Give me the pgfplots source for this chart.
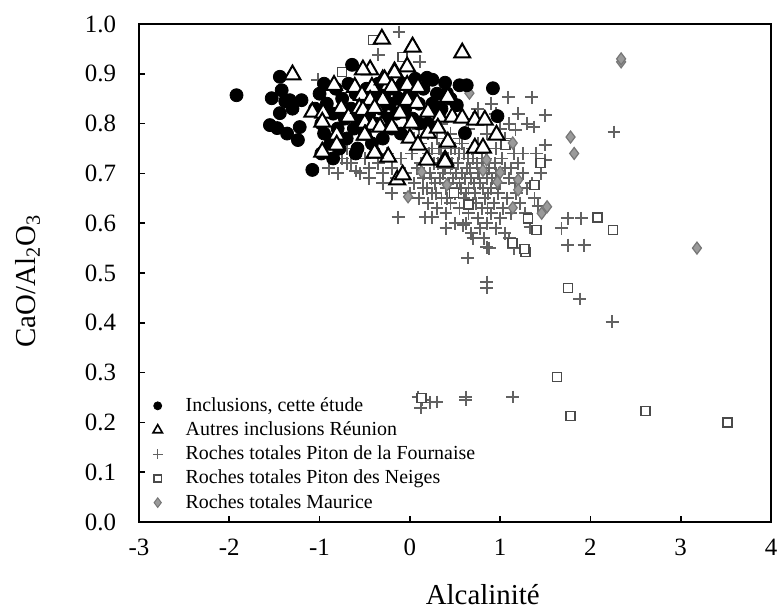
\documentclass[border=0pt]{standalone}
\usepackage{fontspec}
\setmainfont{Liberation Serif}
\usepackage{pgfplots}
\pgfplotsset{compat=1.18}
\definecolor{crossgray}{HTML}{626262}
\definecolor{sqgray}{HTML}{4A4A4A}
\definecolor{diafill}{HTML}{9A9A9A}
\definecolor{diadraw}{HTML}{767676}
\pgfplotsset{mylegend/.style={legend image code/.code={\path[draw=none,fill=none] (0bp,0bp) -- (18bp,0bp); \draw[##1] plot coordinates {(6bp,0bp)};}}}
\begin{document}
\begin{tikzpicture}
\begin{axis}[
  name=ax,
  scale only axis, width=316bp, height=249bp,
  xmin=-3, xmax=4, ymin=0, ymax=1,
  xtick={-3,-2,-1,0,1,2,3,4},
  ytick={0,0.1,0.2,0.3,0.4,0.5,0.6,0.7,0.8,0.9,1.0},
  tick align=inside, xtick pos=left, ytick pos=left,
  major tick length=3bp,
  axis line style={line width=1bp},
  tick style={line width=0.8bp, black},
  /pgf/number format/assume math mode=true,
  ticklabel style={font=\fontsize{12.5}{15}\selectfont},
  yticklabel style={/pgf/number format/fixed, /pgf/number format/fixed zerofill, /pgf/number format/precision=1, xshift=-8bp},
  xticklabel style={yshift=-5bp},
  xlabel={Alcalinité},
  ylabel={CaO/Al\textsubscript{2}O\textsubscript{3}},
  label style={font=\fontsize{14.5}{17}\selectfont},
  xlabel style={at={(axis description cs:0.544,-0.146)}, anchor=center},
  ylabel style={at={(axis description cs:-0.176,0.484)}, anchor=center},
  legend style={draw=none, fill=none, at={(axis description cs:0.010,0.259)}, anchor=north west,
    font=\fontsize{10}{12}\selectfont, row sep=-0.3bp, inner sep=0pt},
  legend cell align=left,
]
% legend entries
\addlegendimage{only marks, mylegend, mark=*, mark size=2bp, black}
\addlegendentry{Inclusions, cette étude}
\addlegendimage{only marks, mylegend, mark=triangle*, mark size=2.7bp, mark options={fill=white, draw=black, line width=0.8bp}}
\addlegendentry{Autres inclusions Réunion}
\addlegendimage{only marks, mylegend, mark=+, mark size=2.4bp, mark options={draw=crossgray, line width=0.7bp}}
\addlegendentry{Roches totales Piton de la Fournaise}
\addlegendimage{only marks, mylegend, mark=square*, mark size=1.8bp, mark options={fill=white, draw=sqgray, line width=0.7bp}}
\addlegendentry{Roches totales Piton des Neiges}
\addlegendimage{only marks, mylegend, mark=diamond*, mark size=2.4bp, mark options={fill=diafill, draw=diadraw, line width=0.5bp}}
\addlegendentry{Roches totales Maurice}

% Roches totales Piton de la Fournaise
\addplot[forget plot, only marks, mark=+, mark size=3.2bp, mark options={draw=crossgray, line width=0.95bp}] coordinates {
(0.02,0.74)(0.08,0.71)(0.12,0.76)(0.15,0.69)(0.18,0.73)(0.22,0.70)(0.25,0.75)(0.28,0.68)(0.31,0.72)(0.34,0.74)
(0.37,0.70)(0.40,0.67)(0.42,0.73)(0.45,0.71)(0.48,0.69)(0.50,0.75)(0.53,0.72)(0.55,0.68)(0.58,0.70)(0.60,0.74)
(0.63,0.71)(0.65,0.67)(0.68,0.69)(0.70,0.73)(0.72,0.66)(0.75,0.70)(0.78,0.68)(0.80,0.72)(0.83,0.65)(0.85,0.69)
(0.88,0.71)(0.90,0.67)(0.93,0.64)(0.95,0.70)(0.98,0.66)(1.00,0.68)(1.03,0.63)(1.05,0.71)(1.08,0.65)(1.10,0.69)
(0.05,0.77)(0.10,0.79)(0.20,0.78)(0.30,0.77)(0.35,0.80)(0.45,0.78)(0.55,0.77)(0.65,0.79)(0.75,0.76)(0.85,0.78)
(0.95,0.75)(1.05,0.77)(1.15,0.74)(1.20,0.72)(1.25,0.70)(1.30,0.67)(1.18,0.66)(1.12,0.62)(1.22,0.64)(1.28,0.62)
(-0.05,0.70)(-0.10,0.73)(-0.15,0.69)(-0.20,0.71)(-0.25,0.74)(-0.30,0.70)(-0.35,0.72)(-0.40,0.75)(-0.45,0.71)(-0.50,0.73)
(-0.55,0.70)(-0.60,0.74)(-0.65,0.72)(-0.70,0.75)(-0.75,0.73)(-0.80,0.76)(-0.85,0.74)(-0.90,0.73)(-0.95,0.75)
(0.00,0.66)(0.05,0.68)(0.10,0.65)(0.15,0.67)(0.20,0.64)(0.25,0.66)(0.30,0.63)(0.35,0.65)(0.40,0.62)(0.45,0.64)
(0.50,0.66)(0.55,0.63)(0.60,0.65)(0.65,0.62)(0.70,0.64)(0.75,0.61)(0.80,0.63)(0.85,0.60)(0.90,0.62)(0.95,0.59)
(1.00,0.61)(1.05,0.58)(0.78,0.59)(0.70,0.57)(0.82,0.57)(0.88,0.55)(1.10,0.57)(1.15,0.55)(0.62,0.60)(0.68,0.58)
(0.12,0.72)(0.16,0.70)(0.21,0.74)(0.24,0.69)(0.27,0.72)(0.33,0.69)(0.36,0.73)(0.39,0.71)(0.43,0.68)(0.47,0.72)
(0.51,0.70)(0.54,0.74)(0.57,0.67)(0.61,0.69)(0.64,0.73)(0.67,0.71)(0.71,0.68)(0.74,0.72)(0.77,0.70)(0.81,0.67)
(0.84,0.73)(0.87,0.66)(0.91,0.69)(0.94,0.72)(0.97,0.68)(0.19,0.67)(0.29,0.66)(0.41,0.65)(0.52,0.67)(0.62,0.66)
(0.73,0.64)(0.86,0.63)(0.46,0.75)(0.58,0.76)(0.32,0.75)(0.69,0.75)(0.80,0.74)(1.02,0.73)(1.12,0.71)(1.16,0.68)
(-0.13,0.612)(0.17,0.612)(0.25,0.612)(0.59,0.596)(0.64,0.530)(0.85,0.552)(0.85,0.482)(0.85,0.470)
(1.75,0.610)(1.90,0.610)(1.68,0.590)(1.33,0.592)(1.75,0.556)(1.93,0.556)(1.88,0.448)(2.24,0.402)
(-0.12,0.984)(0.11,0.924)(-1.02,0.888)(-0.35,0.938)(1.09,0.853)(1.35,0.853)(1.50,0.817)(1.37,0.793)(1.50,0.757)
(2.26,0.783)(1.17,0.787)(1.50,0.727)(1.40,0.740)(1.45,0.700)(1.38,0.650)(1.42,0.635)(1.35,0.680)(1.25,0.740)
(1.30,0.800)(1.20,0.820)(1.10,0.800)(0.95,0.820)(0.85,0.800)(1.00,0.790)(0.90,0.840)(0.75,0.830)(0.70,0.810)
(-0.90,0.710)(-0.70,0.720)(-0.60,0.705)(-0.45,0.690)(-0.80,0.700)(-0.30,0.680)(-0.20,0.660)(0.40,0.590)(0.50,0.600)
(0.09,0.251)(0.12,0.229)(0.14,0.245)(0.30,0.241)(0.22,0.240)(0.62,0.251)(0.62,0.245)(1.14,0.251)
};

% Roches totales Piton des Neiges
\addplot[forget plot, only marks, mark=square*, mark size=2.25bp, mark options={fill=white, draw=sqgray, line width=0.8bp}] coordinates {
(-0.41,0.968)(-0.08,0.934)(-0.75,0.904)(1.45,0.721)(1.38,0.677)(1.31,0.610)(1.40,0.586)(1.14,0.560)
(1.28,0.542)(1.27,0.548)(2.08,0.612)(2.25,0.586)(1.75,0.470)(1.63,0.291)(1.78,0.213)(2.61,0.223)
(3.52,0.200)(0.49,0.661)(0.65,0.637)(0.13,0.249)(1.06,0.757)
};

% Roches totales Maurice
\addplot[forget plot, only marks, mark=diamond*, mark size=3bp, mark options={fill=diafill, draw=diadraw, line width=0.6bp}] coordinates {
(2.34,0.924)(2.34,0.930)(1.78,0.773)(1.82,0.740)(3.18,0.550)(1.14,0.761)(0.13,0.703)(-0.02,0.653)
(0.41,0.677)(0.81,0.706)(1.00,0.702)(0.97,0.683)(1.20,0.687)(1.20,0.667)(1.14,0.631)(1.52,0.633)
(1.46,0.620)(0.85,0.727)(0.66,0.861)(-0.82,0.740)
};

% Inclusions, cette etude
\addplot[forget plot, only marks, mark=*, mark size=3.25bp, black] coordinates {
(-1.92,0.857)(-1.44,0.894)(-1.53,0.851)(-1.55,0.797)(-1.47,0.791)(-1.44,0.821)(-1.42,0.867)(-1.33,0.847)
(-1.20,0.847)(-1.36,0.780)(-1.24,0.767)(-1.22,0.793)(-1.08,0.707)(-0.64,0.918)(-1.38,0.845)(-1.30,0.830)
(-1.05,0.83)(-1.00,0.86)(-0.98,0.80)(-0.95,0.78)(-0.92,0.84)(-0.88,0.76)(-0.85,0.82)(-0.82,0.87)(-0.80,0.79)
(-0.78,0.75)(-0.75,0.85)(-0.72,0.81)(-0.70,0.77)(-0.68,0.88)(-0.65,0.83)(-0.62,0.79)(-0.60,0.86)(-0.58,0.75)
(-0.55,0.81)(-0.52,0.84)(-0.50,0.78)(-0.48,0.87)(-0.45,0.82)(-0.42,0.76)(-0.40,0.85)(-0.38,0.80)(-0.35,0.88)
(-0.32,0.83)(-0.30,0.77)(-0.28,0.86)(-0.25,0.81)(-0.22,0.84)(-0.20,0.79)(-0.18,0.87)(-0.15,0.82)(-0.12,0.85)
(-0.10,0.78)(-0.08,0.88)(-0.05,0.83)(0.00,0.86)(0.03,0.81)(0.06,0.89)(0.10,0.84)(0.15,0.87)(0.19,0.892)
(0.25,0.888)(0.30,0.86)(0.35,0.83)(0.39,0.882)(0.41,0.861)(0.45,0.85)(0.52,0.837)(0.55,0.877)(0.63,0.877)
(0.33,0.823)(0.92,0.871)(0.97,0.815)(0.61,0.781)(0.20,0.80)(-0.98,0.74)(-0.85,0.73)(-0.60,0.74)(-0.95,0.88)
(0.25,0.84)(0.10,0.80)
};

% Autres inclusions Reunion
\addplot[forget plot, only marks, mark=triangle*, mark size=4.6bp, mark options={fill=white, draw=black, line width=1bp}] coordinates {
(-1.30,0.898)(-0.31,0.970)(-0.84,0.877)(-0.61,0.873)(-0.44,0.908)(-0.42,0.873)(-0.17,0.904)(-0.30,0.888)
(-0.24,0.877)(-0.53,0.857)(-1.08,0.823)(-0.96,0.821)(-0.76,0.831)(-0.68,0.813)(-0.56,0.831)(-0.37,0.833)
(-0.30,0.847)(-0.97,0.803)(-0.50,0.801)(-0.41,0.797)(-0.31,0.797)(-0.22,0.793)(-0.81,0.777)(-0.49,0.777)
(-0.81,0.757)(-0.97,0.743)(-0.38,0.741)(-0.24,0.733)(-0.14,0.687)
(0.03,0.954)(0.58,0.942)(-0.03,0.914)(-0.52,0.908)(-0.17,0.902)(-0.28,0.888)(-0.20,0.873)(-0.03,0.877)
(0.09,0.873)(-0.44,0.847)(-0.03,0.847)(0.08,0.841)(0.42,0.853)(-0.52,0.827)(-0.39,0.831)(-0.11,0.821)
(0.20,0.823)(0.33,0.813)(0.47,0.813)(0.58,0.811)(0.72,0.807)(0.83,0.807)(-0.50,0.777)(-0.33,0.793)
(-0.20,0.793)(0.02,0.801)(0.20,0.781)(0.31,0.791)(0.00,0.771)(0.09,0.757)(0.42,0.763)(0.96,0.777)
(0.72,0.751)(0.81,0.751)(-0.39,0.741)(0.19,0.727)(0.39,0.727)(-0.08,0.697)(0.39,0.723)
};
\end{axis}
\pgfresetboundingbox
\path ([shift={(-69.5bp,-43.5bp)}]ax.south west) rectangle ([shift={(5bp,12bp)}]ax.north east);
\end{tikzpicture}
\end{document}
